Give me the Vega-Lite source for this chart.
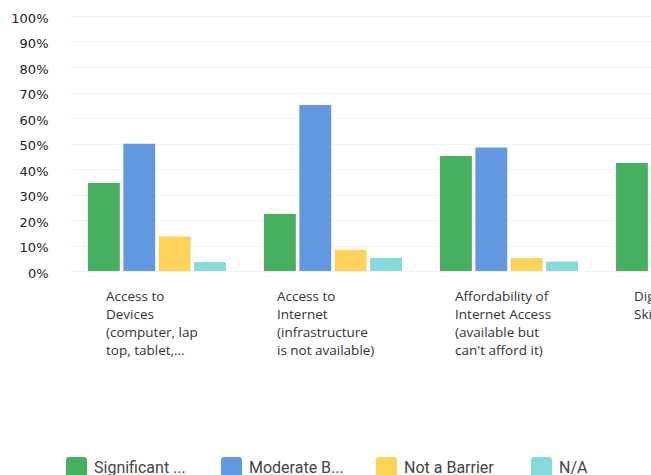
{
  "$schema": "https://vega.github.io/schema/vega-lite/v6.json",
  "autosize": "none",
  "padding": {"left": 70, "top": 16, "right": 0, "bottom": 204},
  "width": 581,
  "height": 255,
  "background": "white",
  "config": {"view": {"stroke": null}},
  "data": {
    "values": [
      {"cat": "Access to|Devices|(computer, lap|top, tablet,...", "resp": "Significant Barrier", "value": 34.5},
      {"cat": "Access to|Devices|(computer, lap|top, tablet,...", "resp": "Moderate Barrier", "value": 49.9},
      {"cat": "Access to|Devices|(computer, lap|top, tablet,...", "resp": "Not a Barrier", "value": 13.5},
      {"cat": "Access to|Devices|(computer, lap|top, tablet,...", "resp": "N/A", "value": 3.5},
      {"cat": "Access to|Internet|(infrastructure|is not available)", "resp": "Significant Barrier", "value": 22.4},
      {"cat": "Access to|Internet|(infrastructure|is not available)", "resp": "Moderate Barrier", "value": 65.1},
      {"cat": "Access to|Internet|(infrastructure|is not available)", "resp": "Not a Barrier", "value": 8.3},
      {"cat": "Access to|Internet|(infrastructure|is not available)", "resp": "N/A", "value": 5.1},
      {"cat": "Affordability of|Internet Access|(available but|can't afford it)", "resp": "Significant Barrier", "value": 45.1},
      {"cat": "Affordability of|Internet Access|(available but|can't afford it)", "resp": "Moderate Barrier", "value": 48.4},
      {"cat": "Affordability of|Internet Access|(available but|can't afford it)", "resp": "Not a Barrier", "value": 5.1},
      {"cat": "Affordability of|Internet Access|(available but|can't afford it)", "resp": "N/A", "value": 3.7},
      {"cat": "Digital|Skills", "resp": "Significant Barrier", "value": 42.4}
    ]
  },
  "mark": {"type": "bar", "clip": true},
  "encoding": {
    "x": {
      "field": "cat",
      "type": "nominal",
      "sort": [
        "Access to|Devices|(computer, lap|top, tablet,...",
        "Access to|Internet|(infrastructure|is not available)",
        "Affordability of|Internet Access|(available but|can't afford it)",
        "Digital|Skills"
      ],
      "scale": {"range": [0, 702], "paddingInner": 0.216, "paddingOuter": 0.102},
      "axis": {
        "title": null,
        "domain": false,
        "ticks": false,
        "labelAngle": 0,
        "labelAlign": "left",
        "labelBaseline": "top",
        "labelPadding": 18,
        "labelFont": "Open Sans",
        "labelFontSize": 13.5,
        "labelLineHeight": 18.3,
        "labelColor": "#333333",
        "labelLimit": 300,
        "labelExpr": "split(datum.label, '|')",
        "labelOffset": {
          "condition": [
            {"test": "indexof(datum.value, 'Internet|(infra') >= 0", "value": -56},
            {"test": "indexof(datum.value, 'Affordability') >= 0", "value": -54}
          ],
          "value": -51
        }
      }
    },
    "xOffset": {
      "field": "resp",
      "type": "nominal",
      "sort": ["Significant Barrier", "Moderate Barrier", "Not a Barrier", "N/A"],
      "scale": {"paddingInner": 0.1, "paddingOuter": 0}
    },
    "y": {
      "field": "value",
      "type": "quantitative",
      "scale": {"domain": [0, 100], "nice": false},
      "axis": {
        "title": null,
        "values": [0, 10, 20, 30, 40, 50, 60, 70, 80, 90, 100],
        "labelExpr": "datum.value + '%'",
        "domain": false,
        "ticks": false,
        "grid": true,
        "gridColor": "#f4f4f4",
        "labelPadding": 22,
        "labelOffset": 2,
        "labelFont": "DejaVu Sans",
        "labelFontSize": 13,
        "labelColor": "#222222"
      }
    },
    "color": {
      "field": "resp",
      "type": "nominal",
      "scale": {
        "domain": ["Significant Barrier", "Moderate Barrier", "Not a Barrier", "N/A"],
        "range": ["#45b05e", "#6198e0", "#fdd35a", "#86dadd"]
      },
      "legend": {
        "title": null,
        "orient": "none",
        "legendX": -4,
        "legendY": 441,
        "direction": "horizontal",
        "columns": 4,
        "gridAlign": "all",
        "columnPadding": 32,
        "symbolType": "M -1 -0.7 Q -1 -1 -0.7 -1 L 0.7 -1 Q 1 -1 1 -0.7 L 1 0.7 Q 1 1 0.7 1 L -0.7 1 Q -1 1 -1 0.7 Z",
        "symbolSize": 441,
        "symbolStrokeWidth": 0,
        "symbolOpacity": 1,
        "labelFont": "Roboto",
        "labelFontSize": 16,
        "labelColor": "#444444",
        "labelOffset": 7,
        "labelExpr": "datum.label == 'Significant Barrier' ? 'Significant ...' : datum.label == 'Moderate Barrier' ? 'Moderate B...' : datum.label"
      }
    }
  }
}
